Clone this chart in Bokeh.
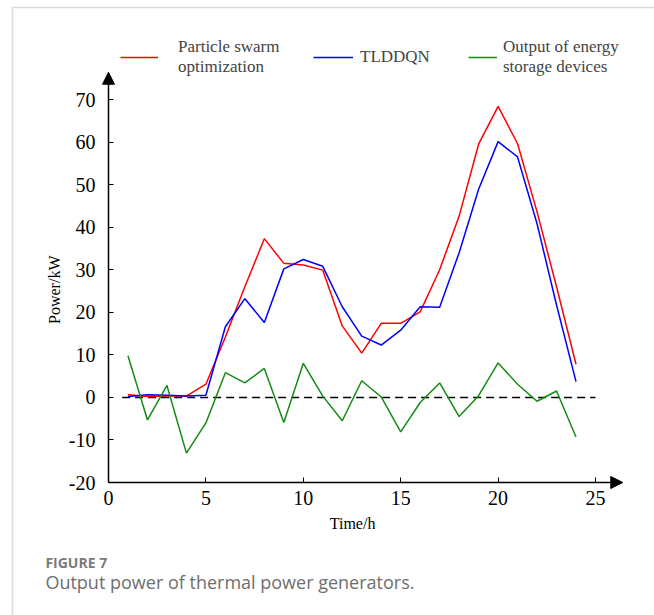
import math
from bokeh.plotting import figure
from bokeh.models import (Range1d, FixedTicker, Arrow, NormalHead, Legend, LegendItem, Label)
from bokeh.embed import file_html
from bokeh.resources import INLINE

# ---- data ----
hours = list(range(1, 25))
pso = [0.6, 0.2, 0.3, 0.3, 3.1, 14.2, 26.0, 37.3, 31.5, 31.1, 29.9, 16.8,
       10.4, 17.4, 17.4, 20.1, 30.0, 42.6, 59.5, 68.4, 59.6, 43.6, 26.0, 7.8]
tlddqn = [0.2, 0.6, 0.5, 0.3, 0.5, 16.6, 23.2, 17.6, 30.2, 32.4, 30.8, 21.3,
          14.4, 12.3, 15.8, 21.3, 21.2, 34.0, 48.9, 60.1, 56.5, 40.8, 21.7, 3.7]
storage = [9.8, -5.3, 2.8, -13.1, -6.0, 5.8, 3.4, 6.8, -5.9, 8.0, 0.3, -5.5,
           3.9, 0.1, -8.1, -1.2, 3.4, -4.5, 0.4, 8.1, 3.1, -0.9, 1.5, -9.3]
baseline_x = [0.7, 25.0]
baseline_y = [0, 0]
x_ticks = [0, 5, 10, 15, 20, 25]
y_ticks = [-20, -10, 0, 10, 20, 30, 40, 50, 60, 70]
y_tick_labels = ["-20", "-10", "0", "10", "20", "30", "40", "50", "60", "70"]
series_names = ["Particle swarm\noptimization", "TLDDQN", "Output of energy\nstorage devices"]
x_title = "Time/h"
y_title = "Power/kW"
caption_title = "FIGURE 7"
caption_text = "Output power of thermal power generators."

SERIF = "Liberation Serif"
X0, Y0 = 0, -20          # axis origin
X_TIP, Y_TIP = 26.4, 76.4

p = figure(width=654, height=615, x_range=Range1d(-5.544, 28.029), y_range=Range1d(-51.253, 93.264),
           min_border=0, output_backend="svg", toolbar_location=None, tools="")
p.grid.visible = False
p.outline_line_color = None
p.background_fill_color = "white"
p.border_fill_color = "white"

p.xaxis.fixed_location = Y0
p.yaxis.fixed_location = X0
for ax in (p.xaxis[0], p.yaxis[0]):
    ax.axis_line_color = None
    ax.major_tick_in = 5
    ax.major_tick_out = 0
    ax.major_tick_line_color = "black"
    ax.major_tick_line_width = 1
    ax.minor_tick_line_color = None
    ax.major_label_text_font = SERIF
    ax.major_label_text_font_size = "20px"
    ax.major_label_text_color = "black"

p.xaxis.ticker = FixedTicker(ticks=x_ticks)
p.yaxis.ticker = FixedTicker(ticks=y_ticks)
p.yaxis.major_label_overrides = {t: s for t, s in zip(y_ticks, y_tick_labels)}
p.xaxis.major_label_standoff = 8
p.yaxis.major_label_standoff = 13

# axis titles
p.add_layout(Label(x=12.53, y=-29.6, text=x_title, text_font=SERIF, text_font_size="16px",
                   text_color="black", text_align="center", text_baseline="middle"))
p.add_layout(Label(x=-2.77, y=25.3, text=y_title, text_font=SERIF, text_font_size="16px",
                   text_color="black", text_align="center", text_baseline="middle", angle=math.pi / 2))

# axis arrows
p.add_layout(Arrow(x_start=X0, y_start=Y0, x_end=X0, y_end=Y_TIP, line_width=1.5, line_color="black",
                   end=NormalHead(size=12, fill_color="black", line_color="black")))
p.add_layout(Arrow(x_start=X0, y_start=Y0, x_end=X_TIP, y_end=Y0, line_width=1.5, line_color="black",
                   end=NormalHead(size=12, fill_color="black", line_color="black")))

# dashed zero line
p.line(baseline_x, baseline_y, line_color="black", line_width=1.5, line_dash="8 5")

r1 = p.line(hours, pso, line_color="#ff0000", line_width=1.5)
r2 = p.line(hours, tlddqn, line_color="#0000ff", line_width=1.5)
r3 = p.line(hours, storage, line_color="#138c13", line_width=1.5)

def mk_legend(item_renderer, label, x, y, gw, standoff):
    lg = Legend(items=[LegendItem(label=label, renderers=[item_renderer])],
                location=(x, y), glyph_width=gw, glyph_height=20, label_standoff=standoff,
                label_text_font=SERIF, label_text_font_size="17px", label_text_line_height=1.2,
                padding=0, margin=0, spacing=0, border_line_color=None, background_fill_alpha=0,
                label_height=20)
    p.add_layout(lg)

mk_legend(r1, series_names[0], 120, 538, 38, 20)
mk_legend(r2, series_names[1], 313, 548, 40, 7)
mk_legend(r3, series_names[2], 468, 538, 29, 6)

# caption (positioned in data units below the x axis)
p.add_layout(Label(x=-3.24, y=-38.7, text=caption_title,
                   text_font="Open Sans", text_font_size="14px", text_font_style="bold",
                   text_color="#7a7a7a", text_baseline="middle"))
p.add_layout(Label(x=-3.24, y=-43.4, text=caption_text,
                   text_font="Open Sans", text_font_size="18px",
                   text_color="#6e6e6e", text_baseline="middle"))

# light frame of the figure panel (left and top edges)
p.add_layout(Arrow(x_start=-4.93, y_start=-52, x_end=-4.93, y_end=91.6, end=None,
                   line_color="#dadada", line_width=1.5))
p.add_layout(Arrow(x_start=-4.93, y_start=91.6, x_end=29, y_end=91.6, end=None,
                   line_color="#dadada", line_width=1.5))

open("out.html", "w").write(file_html(p, INLINE))
